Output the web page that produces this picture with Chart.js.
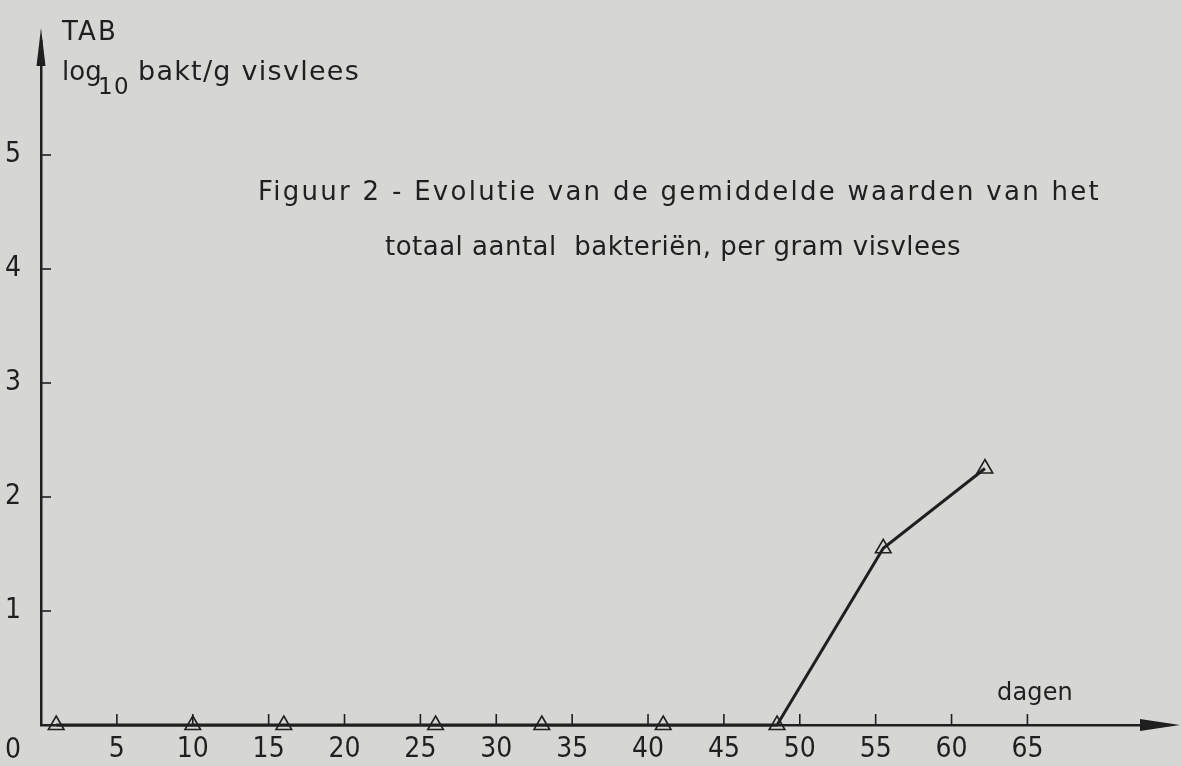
<!DOCTYPE html>
<html><head><meta charset="utf-8">
<script src="https://cdn.jsdelivr.net/npm/chart.js@4"></script>
<style>
html,body{margin:0;padding:0;background:#d6d6d4;}
#wrap{width:1181px;height:766px;position:relative;}
</style></head><body>
<div id="wrap"><canvas id="c"></canvas></div>
<script>
// ---- data ----
const days = [1, 10, 16, 26, 33, 41, 48.5, 55.5, 62.2];
const tabLog = [0, 0, 0, 0, 0, 0, 0, 1.55, 2.25];
const xTickValues = [5, 10, 15, 20, 25, 30, 35, 40, 45, 50, 55, 60, 65];
const yTickValues = [1, 2, 3, 4, 5];
const originLabel = '0';
const yTitleTop = 'TAB';
const yTitleLog = 'log';
const yTitleSub = '10';
const yTitleRest = 'bakt/g visvlees';
const xTitle = 'dagen';
const titleLine1 = 'Figuur 2 - Evolutie van de gemiddelde waarden van het';
const titleLine2 = 'totaal aantal  bakteriën, per gram visvlees';

const INK = '#1f1f1f';
const BG = '#d6d6d4';
const tickFont = "'Liberation Sans Narrow','DejaVu Sans Condensed','Roboto Condensed',sans-serif";
const textFont = "'DejaVu Sans',sans-serif";

function spaced(ctx, text, x, y, target) {
  ctx.save();
  const w0 = ctx.measureText(text).width;
  const n = [...text].length;
  if ('letterSpacing' in ctx) {
    ctx.letterSpacing = ((target - w0) / n) + 'px';
    ctx.fillText(text, x, y);
  } else {
    ctx.translate(x, y);
    ctx.scale(target / w0, 1);
    ctx.fillText(text, 0, 0);
  }
  ctx.restore();
}

const decor = {
  id: 'decor',
  beforeDraw(chart) {
    const ctx = chart.ctx;
    ctx.save();
    ctx.fillStyle = BG;
    ctx.fillRect(0, 0, chart.width, chart.height);
    ctx.restore();
  },
  afterDraw(chart) {
    const ctx = chart.ctx;
    const xs = chart.scales.x, ys = chart.scales.y;
    const ca = chart.chartArea;
    ctx.save();
    ctx.strokeStyle = INK;
    ctx.fillStyle = INK;
    // inner tick marks
    ctx.lineWidth = 1.6;
    xTickValues.forEach(v => {
      const px = xs.getPixelForValue(v);
      ctx.beginPath(); ctx.moveTo(px, ca.bottom); ctx.lineTo(px, ca.bottom - 11); ctx.stroke();
    });
    yTickValues.forEach(v => {
      const py = ys.getPixelForValue(v);
      ctx.beginPath(); ctx.moveTo(ca.left, py); ctx.lineTo(ca.left + 10, py); ctx.stroke();
    });
    // axis extensions + arrowheads
    ctx.lineWidth = 2.5;
    ctx.beginPath(); ctx.moveTo(ca.right, ca.bottom); ctx.lineTo(1150, ca.bottom); ctx.stroke();
    ctx.beginPath();
    ctx.moveTo(1180, ca.bottom); ctx.lineTo(1140, ca.bottom - 6); ctx.lineTo(1140, ca.bottom + 6); ctx.closePath(); ctx.fill();
    ctx.beginPath();
    ctx.moveTo(ca.left, 28); ctx.lineTo(ca.left - 4.5, 66); ctx.lineTo(ca.left + 4.5, 66); ctx.closePath(); ctx.fill();
    // origin label
    ctx.font = '28px ' + tickFont;
    ctx.textAlign = 'center'; ctx.textBaseline = 'alphabetic';
    ctx.fillText(originLabel, 13, 758);
    // y axis title
    ctx.textAlign = 'left';
    ctx.font = '26px ' + textFont;
    spaced(ctx, yTitleTop, 62, 40, 56);
    ctx.font = '26px ' + textFont;
    ctx.fillText(yTitleLog, 62, 80);
    ctx.font = '23px ' + textFont;
    spaced(ctx, yTitleSub, 98, 94, 32);
    ctx.font = '27px ' + textFont;
    spaced(ctx, yTitleRest, 138, 80, 222);
    // x axis title
    ctx.font = '24px ' + textFont;
    spaced(ctx, xTitle, 997, 700, 76);
    // figure title
    ctx.font = '26px ' + textFont;
    spaced(ctx, titleLine1, 258, 200, 843);
    spaced(ctx, titleLine2, 385, 255, 576);
    ctx.restore();
  }
};

new Chart(document.getElementById('c'), {
  type: 'line',
  data: {
    datasets: [{
      data: days.map((d, i) => ({ x: d, y: tabLog[i] })),
      borderColor: INK,
      borderWidth: 3,
      pointStyle: 'triangle',
      pointRadius: 9,
      pointBorderWidth: 1.6,
      pointBackgroundColor: 'rgba(0,0,0,0)',
      pointBorderColor: INK,
      tension: 0,
      clip: false
    }]
  },
  options: {
    responsive: true,
    maintainAspectRatio: false,
    animation: false,
    layout: { padding: { top: 41, right: 17, left: 0, bottom: 0 } },
    plugins: { legend: { display: false }, tooltip: { enabled: false }, title: { display: false } },
    scales: {
      x: {
        type: 'linear', min: 0, max: 74,
        afterFit(s) { s.height = 41; },
        grid: { display: false, drawTicks: false },
        border: { display: true, color: INK, width: 2.5 },
        ticks: {
          stepSize: 5, padding: 8, color: INK, autoSkip: false, maxRotation: 0,
          font: { family: tickFont, size: 28 },
          callback: v => xTickValues.includes(v) ? String(v) : ''
        }
      },
      y: {
        type: 'linear', min: 0, max: 6,
        afterFit(s) { s.width = 41; },
        grid: { display: false, drawTicks: false },
        border: { display: true, color: INK, width: 2.5 },
        ticks: {
          stepSize: 1, padding: 20, color: INK, autoSkip: false,
          font: { family: tickFont, size: 28 },
          callback: v => yTickValues.includes(v) ? String(v) : ''
        }
      }
    }
  },
  plugins: [decor]
});
</script>
</body></html>
